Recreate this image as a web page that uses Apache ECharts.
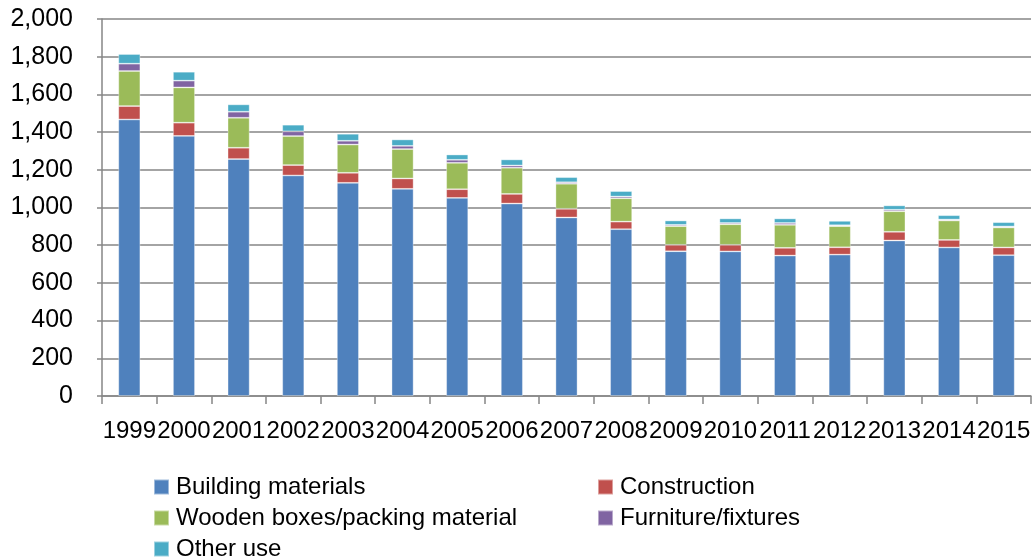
<!DOCTYPE html>
<html>
<head>
<meta charset="utf-8">
<script src="https://cdn.jsdelivr.net/npm/echarts@6/dist/echarts.min.js"></script>
<style>html,body{margin:0;padding:0;background:#fff;}#c{width:1034px;height:559px;}</style>
</head>
<body>
<div id="c"></div>
<script>
const years = ['1999','2000','2001','2002','2003','2004','2005','2006','2007','2008','2009','2010','2011','2012','2013','2014','2015'];
const buildingMaterials = [1467,1380,1257,1170,1131,1099,1051,1021,947,885,768,767,745,750,825,788,747];
const construction      = [71,70,60,55,53,55,46,51,46,40,34,35,41,39,46,40,41];
const woodenBoxes       = [186,187,159,154,150,156,140,139,133,124,99,109,122,112,109,103,106];
const furniture         = [39,36,32,25,20,17,16,12,8,9,7,7,10,5,8,5,5];
const otherUse          = [51,47,39,35,37,34,28,32,27,29,23,24,24,23,23,23,23];
const yTicks = [0,200,400,600,800,1000,1200,1400,1600,1800,2000];

const FONT = '"Liberation Sans", Arial, sans-serif';
const names = ['Building materials','Construction','Wooden boxes/packing material','Furniture/fixtures','Other use'];
const colors = ['#4F81BD','#C0504D','#9BBB59','#8064A2','#4BACC6'];
const dataSets = [buildingMaterials, construction, woodenBoxes, furniture, otherUse];

const legendCommon = {
  orient: 'vertical', padding: 0,
  itemWidth: 15, itemHeight: 15, itemGap: 7, icon: 'rect',
  textStyle: {fontFamily: FONT, fontSize: 24, color: '#000', lineHeight: 24, padding: [0,0,0,2]}
};

const chart = echarts.init(document.getElementById('c'), null, {renderer:'canvas'});
chart.setOption({
  animation: false,
  color: colors,
  grid: {left: 102, right: 3, top: 19, bottom: 163, containLabel: false},
  xAxis: {
    type: 'category',
    data: years,
    boundaryGap: true,
    axisLine: {show: true, lineStyle: {color: '#868686', width: 1.5}},
    axisTick: {show: true, length: 8, interval: 0, lineStyle: {color: '#868686', width: 1.5}},
    axisLabel: {interval: 0, margin: 23, color: '#000', fontFamily: FONT, fontSize: 24},
    splitLine: {show: false}
  },
  yAxis: {
    type: 'value',
    min: 0, max: 2000, interval: 200,
    axisLine: {show: true, lineStyle: {color: '#868686', width: 1.5}},
    axisTick: {show: true, length: 5, lineStyle: {color: '#868686', width: 1.5}},
    axisLabel: {margin: 29, color: '#000', fontFamily: FONT, fontSize: 25,
      formatter: v => v.toLocaleString('en-US')},
    splitLine: {show: true, lineStyle: {color: '#868686', width: 1.5}}
  },
  legend: [
    Object.assign({left: 153, top: 475, data: [names[0], names[2]]}, legendCommon),
    Object.assign({left: 597, top: 475, data: [names[1], names[3]]}, legendCommon),
    Object.assign({left: 153, top: 537, data: [names[4]]}, legendCommon)
  ],
  series: dataSets.map((d, i) => ({
    name: names[i],
    type: 'bar',
    stack: 'total',
    barWidth: 22,
    data: d,
    itemStyle: {color: colors[i], borderColor: 'rgba(255,255,255,0.45)', borderWidth: 0.8}
  }))
});
</script>
</body>
</html>
